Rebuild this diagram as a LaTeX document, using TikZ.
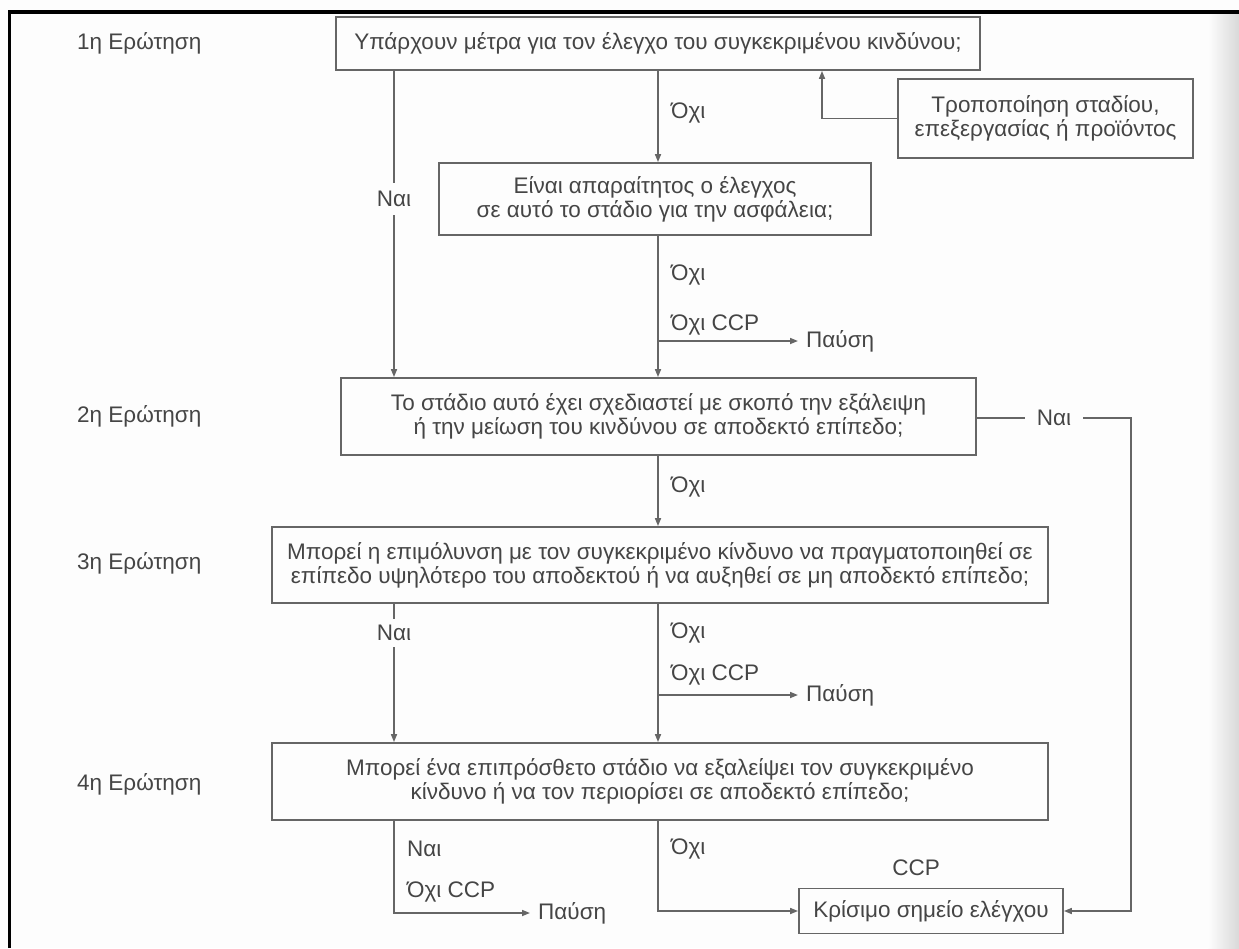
\documentclass[tikz,border=0pt]{standalone}
\usepackage{fontspec}
\setmainfont{Liberation Sans}
\usetikzlibrary{arrows.meta}
\definecolor{ink}{HTML}{454545}
\definecolor{wire}{HTML}{666666}
\definecolor{paper}{HTML}{FDFDFD}
\begin{document}
\begin{tikzpicture}[x=1pt,y=-1pt,
  every node/.style={font=\fontsize{22.5}{24}\selectfont, text=ink},
  qbox/.style={draw=wire, line width=1.8pt, fill=paper, inner sep=0pt, align=center},
  wireline/.style={draw=wire, line width=1.6pt},
  arr/.style={wireline, -{Triangle[length=8pt,width=6pt]}},
  side/.style={inner sep=0pt, anchor=west},
  gap/.style={inner xsep=2pt, inner ysep=8pt},
  stoplbl/.style={inner xsep=8pt, inner ysep=0pt, anchor=west},
  ]
% page and scanned edge
\fill[paper] (0,0) rectangle (1239,948);
\shade[left color=paper, right color=gray!30] (1208,14) rectangle (1239,948);
\useasboundingbox (0,0) rectangle (1239,948);

% column positions of the vertical flow lines
\coordinate (colL) at (394,0);
\coordinate (colM) at (658,0);
\coordinate (colU) at (822,0);
\coordinate (colR) at (1131,0);

% question labels
\node[side] (q1) at (77,43.5) {1η Ερώτηση};
\node[side] (q2) at (77,416.5) {2η Ερώτηση};
\node[side] (q3) at (77,563) {3η Ερώτηση};
\node[side] (q4) at (77,784) {4η Ερώτηση};

% decision boxes
\node[qbox, minimum width=644pt, minimum height=53pt] (b1) at (658,43.5)
  {Υπάρχουν μέτρα για τον έλεγχο του συγκεκριμένου κινδύνου;};
\node[qbox, minimum width=295pt, minimum height=79pt] (bt) at (1045.5,118.5)
  {Τροποποίηση σταδίου,\\επεξεργασίας ή προϊόντος};
\node[qbox, minimum width=432pt, minimum height=72pt] (b1a) at (655,199)
  {Είναι απαραίτητος ο έλεγχος\\σε αυτό το στάδιο για την ασφάλεια;};
\node[qbox, minimum width=635pt, minimum height=77pt] (b2) at (658.5,416.5)
  {Το στάδιο αυτό έχει σχεδιαστεί με σκοπό την εξάλειψη\\ή την μείωση του κινδύνου σε αποδεκτό επίπεδο;};
\node[qbox, minimum width=776pt, minimum height=76pt] (b3) at (660,565)
  {Μπορεί η επιμόλυνση με τον συγκεκριμένο κίνδυνο να πραγματοποιηθεί σε\\επίπεδο υψηλότερο του αποδεκτού ή να αυξηθεί σε μη αποδεκτό επίπεδο;};
\node[qbox, minimum width=776pt, minimum height=77pt] (b4) at (660,781.5)
  {Μπορεί ένα επιπρόσθετο στάδιο να εξαλείψει τον συγκεκριμένο\\κίνδυνο ή να τον περιορίσει σε αποδεκτό επίπεδο;};
\node[qbox, minimum width=264pt, minimum height=45pt] (ccp) at (931,911)
  {Κρίσιμο σημείο ελέγχου};
\node (ccplbl) at (916,868) {CCP};

% question 1
\draw[arr] (b1.south -| colM) -- (b1a.north -| colM);
\node[side] (no1) at (671,113) {Όχι};
\draw[arr] (bt.west) -| (colU |- b1.south);
\node[gap] (naiA) at (394,199) {Ναι};
\draw[wireline] (colL |- b1.south) -- (naiA.north);
\draw[arr] (naiA.south) -- (colL |- b2.north);
\draw[arr] (b1a.south -| colM) -- (b2.north -| colM);
\node[side] (no2) at (671,275) {Όχι};
\node[side] (nccp1) at (671,325) {Όχι CCP};
\coordinate (j1) at (658,341);
\node[stoplbl] (stop1) at (798,341) {Παύση};
\draw[arr] (j1) -- (stop1.west);

% question 2
\node[inner xsep=12pt, inner ysep=2pt, fill=paper] (naiR) at (1054,418) {Ναι};
\draw[wireline] (b2.east |- naiR) -- (naiR.west);
\draw[arr] (naiR.east) -| (colR |- ccp.east) -- (ccp.east);
\draw[arr] (b2.south -| colM) -- (b3.north -| colM);
\node[side] (no3) at (671,487) {Όχι};

% question 3
\node[inner xsep=2pt, inner ysep=6pt] (naiB) at (394,633) {Ναι};
\draw[wireline] (colL |- b3.south) -- (naiB.north);
\draw[arr] (naiB.south) -- (colL |- b4.north);
\draw[arr] (b3.south -| colM) -- (b4.north -| colM);
\node[side] (no4) at (671,633) {Όχι};
\node[side] (nccp2) at (671,675) {Όχι CCP};
\coordinate (j2) at (658,695);
\node[stoplbl] (stop2) at (798,695) {Παύση};
\draw[arr] (j2) -- (stop2.west);

% question 4
\node[side] (naiC) at (407,849) {Ναι};
\node[side] (nccp3) at (407,892) {Όχι CCP};
\node[stoplbl] (stop3) at (530,913) {Παύση};
\draw[arr] (b4.south -| colL) |- (stop3.west);
\node[side] (no5) at (671,849) {Όχι};
\draw[arr] (b4.south -| colM) |- (ccp.west);

% frame
\draw[black, line width=3.5pt] (9.5,948) -- (9.5,12) -- (1239,12);
\end{tikzpicture}
\end{document}
